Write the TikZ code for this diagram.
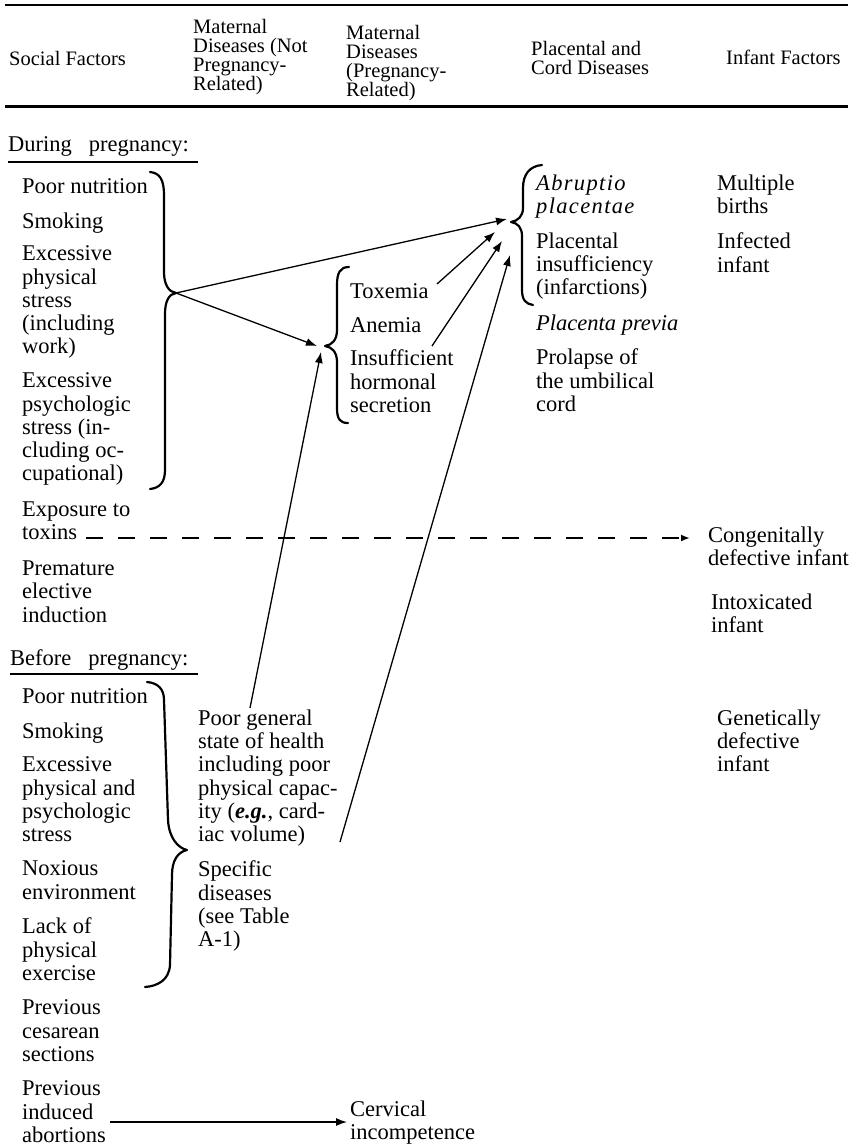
\documentclass[tikz,border=0pt]{standalone}
\usepackage{fontspec}
\setmainfont{Liberation Serif}
\usetikzlibrary{arrows.meta}
\begin{document}
\begin{tikzpicture}[x=1pt,y=-1pt,
  bt/.style={anchor=north west,yshift=16.24pt,inner sep=0pt,align=left,font=\fontsize{22.5}{23.2}\selectfont,execute at begin node=\strut},
  hd/.style={anchor=north west,yshift=13.3pt,inner sep=0pt,align=left,font=\fontsize{20.5}{19}\selectfont,execute at begin node=\strut},
  it/.style={bt,font=\fontsize{22.5}{23.2}\selectfont\itshape},
  brace/.style={line width=2.2pt,line cap=round,line join=round},
  conn/.style={line width=1.3pt,-{Latex[length=11pt,width=8pt]}},
  dconn/.style={line width=1.8pt,dash pattern=on 17pt off 15pt,-{Latex[length=9pt,width=7pt]}},
  rule/.style={line width=1.7pt},
  uline/.style={line width=1.5pt},
]
\fill[white] (0,0) rectangle (854,1147);
\useasboundingbox (0,0) rectangle (854,1147);

% header
\draw[rule] (5,5) -- (848,5);
\draw[rule,line width=3pt] (5,107) -- (848,107);
\node[hd] (hsoc) at (9,64) {Social Factors};
\node[hd] (hmat1) at (193,32) {Maternal\\Diseases (Not\\Pregnancy-\\Related)};
\node[hd] (hmat2) at (346,38) {Maternal\\Diseases\\(Pregnancy-\\Related)};
\node[hd] (hplac) at (531,54) {Placental and\\Cord Diseases};
\node[hd] (hinf) at (726,63) {Infant Factors};

% during pregnancy
\node[bt] (dur) at (8,151) {During\hspace{0.75em}pregnancy:};
\coordinate (u1a) at (8,162);
\coordinate (u1b) at (198,162);
\draw[uline] (u1a) -- (u1b);
\node[bt] (d1) at (22,193) {Poor nutrition};
\node[bt] (d2) at (22,228) {Smoking};
\node[bt] (d3) at (22,262) {Excessive\\physical\\stress\\(including\\work)};
\node[bt] (d4) at (22,389) {Excessive\\psychologic\\stress (in-\\cluding oc-\\cupational)};
\node[bt] (d5) at (22,518) {Exposure to\\toxins};
\node[bt] (d6) at (22,577) {Premature\\elective\\induction};

% before pregnancy
\node[bt] (bef) at (10,665) {Before\hspace{0.75em}pregnancy:};
\coordinate (u2a) at (10,674);
\coordinate (u2b) at (198,674);
\draw[uline] (u2a) -- (u2b);
\node[bt] (b1) at (22,703) {Poor nutrition};
\node[bt] (b2) at (22,738) {Smoking};
\node[bt] (b3) at (22,773) {Excessive\\physical and\\psychologic\\stress};
\node[bt] (b4) at (22,877) {Noxious\\environment};
\node[bt] (b5) at (22,934) {Lack of\\physical\\exercise};
\node[bt] (b6) at (22,1016) {Previous\\cesarean\\sections};
\node[bt] (b7) at (22,1097) {Previous\\induced\\abortions};

% maternal not pregnancy related
\node[bt] (pgh) at (198,726) {Poor general\\state of health\\including poor\\physical capac-\\ity (\textbf{\textit{e.g.}}, card-\\iac volume)};
\node[bt] (spec) at (198,877) {Specific\\diseases\\(see Table\\A-1)};
\node[bt] (cerv) at (350,1117) {Cervical\\incompetence};

% maternal pregnancy related
\node[bt] (tox) at (350,298) {Toxemia};
\node[bt] (anem) at (350,332) {Anemia};
\node[bt] (insuf) at (350,366) {Insufficient\\hormonal\\secretion};

% placental
\node[it,font=\fontsize{22.5}{23.2}\selectfont\itshape\addfontfeature{LetterSpace=6}] (abr) at (536,191) {Abruptio\\placentae};
\node[bt] (plins) at (536,249) {Placental\\insufficiency\\(infarctions)};
\node[it] (prev) at (536,330) {Placenta previa};
\node[bt] (prol) at (536,365) {Prolapse of\\the umbilical\\cord};

% infant
\node[bt] (mult) at (717,191) {Multiple\\births};
\node[bt] (infc) at (717,249) {Infected\\infant};
\node[bt] (cong) at (708,543) {Congenitally\\defective infant};
\node[bt] (intox) at (711,610) {Intoxicated\\infant};
\node[bt] (genet) at (717,726) {Genetically\\defective\\infant};

% braces
\draw[brace] (150,172) .. controls (160,173) and (164,180) .. (164,195) -- (164,272)
  .. controls (164,285) and (169,292) .. (176,293) .. controls (169,294) and (165,301) .. (165,314)
  -- (165,470) .. controls (165,482) and (160,488) .. (150,489);
\coordinate (tA) at (176,293);

\draw[brace] (349,267) .. controls (340,267) and (337,273) .. (337,285) -- (337,330)
  .. controls (337,340) and (332,345) .. (325,346) .. controls (332,347) and (337,352) .. (337,362)
  -- (337,408) .. controls (337,419) and (340,423) .. (348,423);

\draw[brace] (542,165) .. controls (530,166) and (523,174) .. (523,188) -- (523,208)
  .. controls (523,216) and (518,221) .. (511,222) .. controls (518,223) and (522,228) .. (522,236)
  -- (522,290) .. controls (522,300) and (526,304) .. (533,305);

\draw[brace] (147,682) .. controls (158,683) and (164,689) .. (164,700) -- (168,820)
  .. controls (169,838) and (178,848) .. (187,850) .. controls (178,852) and (172,860) .. (172,875)
  -- (170,965) .. controls (169,980) and (158,986) .. (145,987);

% arrow end coordinates
\coordinate (eC1) at (507,219);
\coordinate (eC2) at (495,232);
\coordinate (eC3) at (502,241);
\coordinate (eC4) at (510,255);
\coordinate (eB1) at (317,346);
\coordinate (eB2) at (321,352);
\coordinate (sTox) at (437,284);
\coordinate (sIns) at (432,346);
\coordinate (sPgh) at (250,708);
\coordinate (sVol) at (340,842);
\coordinate (sTx) at (86,538);
\coordinate (eCg) at (690,538);
\coordinate (sAb) at (110,1122);
\coordinate (eCv) at (347,1122);

% connectors
\draw[conn] (tA) -- (eC1);
\draw[conn] (tA) -- (eB1);
\draw[conn] (sTox) -- (eC2);
\draw[conn] (sIns) -- (eC3);
\draw[conn] (sVol) -- (eC4);
\draw[conn] (sPgh) -- (eB2);
\draw[dconn] (sTx) -- (eCg);
\draw[conn] (sAb) -- (eCv);
\end{tikzpicture}
\end{document}
